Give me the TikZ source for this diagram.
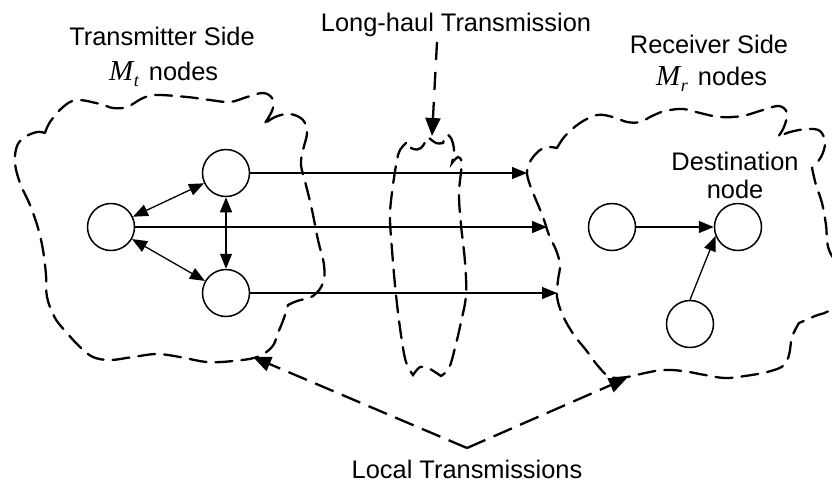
\documentclass[tikz,border=0pt]{standalone}
\usepackage{fontspec}
\setmainfont{Liberation Sans}
\newfontfamily\tmsfont{Liberation Serif}
\usetikzlibrary{arrows.meta}
\begin{document}
\begin{tikzpicture}[x=1pt,y=-1pt,
  nd/.style={circle,draw,line width=1.5pt,minimum size=47pt,inner sep=0pt,fill=white},
  conn/.style={line width=1.3pt,-{Triangle[length=15pt,width=12pt]}},
  dconn/.style={line width=1.3pt,{Triangle[length=15pt,width=12pt]}-{Triangle[length=15pt,width=12pt]}},
  cloudline/.style={line width=2.3pt,dash pattern=on 17pt off 9pt,line cap=round},
  darrow/.style={line width=2.3pt,dash pattern=on 20pt off 9pt,-{Triangle[length=18pt,width=15pt]}},
  lbl/.style={font=\fontsize{25.4}{30}\selectfont,inner sep=0pt,anchor=base}
]
\useasboundingbox (0,0) rectangle (832,483);
\clip (0,0) rectangle (832,483);
\fill[white] (0,0) rectangle (832,483);

% clouds
\draw[cloudline] plot[smooth,tension=0.6] coordinates {(45,133) (50,122) (63,107) (77,100) (100,104) (113,108) (127,107) (143,98) (157,95) (187,97) (210,100) (230,102) (247,97) (263,93) (272,98) (273,108) (267,120) (263,125)}
 -- plot[smooth,tension=0.6] coordinates {(263,125) (275,117) (290,114) (303,120) (307,133) (303,150) (301,165) (306,185) (312,210) (318,240) (324,265) (323,283) (313,296) (297,301) (288,305)}
 -- plot[smooth,tension=0.6] coordinates {(288,305) (284,318) (278,333) (272,347) (257,357) (233,361) (207,362) (180,357) (157,354) (133,357) (110,360) (93,357) (80,347) (67,333) (55,318) (47,297) (46,275) (43,250) (38,228) (30,205) (20,183) (15,163) (17,146) (25,137) (37,132) (45,133)} -- cycle;

\draw[cloudline] plot[smooth,tension=0.6] coordinates {(406,143) (400,150) (397,160) (393,185) (390,215) (392,250) (396,295) (401,335) (406,362) (413,375)}
 -- plot[smooth,tension=0.6] coordinates {(413,375) (420,367) (428,368) (435,372) (441,376)}
 -- plot[smooth,tension=0.6] coordinates {(441,376) (449,368) (455,348) (461,322) (466,295) (465,262) (461,225) (459,195) (461,172) (462,162) (458,157) (452,163)}
 -- plot[smooth,tension=0.6] coordinates {(452,163) (454,150) (451,138) (446,135) (443,143)}
 -- plot[smooth,tension=0.6] coordinates {(443,143) (436,143) (428,137)}
 -- plot[smooth,tension=0.6] coordinates {(428,137) (421,148) (413,149) (406,143)} -- cycle;

\draw[cloudline] plot[smooth,tension=0.6] coordinates {(557,148) (565,136) (580,123) (597,115) (613,117) (627,122) (640,122) (652,116) (665,111) (683,109) (700,113) (720,117) (742,116) (763,110) (779,106) (787,113) (784,127) (778,137)}
 -- plot[smooth,tension=0.6] coordinates {(778,137) (790,132) (807,129) (820,131) (825,143) (821,157) (812,168)}
 -- plot[smooth,tension=0.6] coordinates {(812,168) (816,185) (822,203) (826,225) (829,250) (845,280) (832,308) (815,316) (799,323)}
 -- plot[smooth,tension=0.6] coordinates {(799,323) (792,337) (789,355) (783,366) (767,372) (745,376) (725,378) (705,375) (683,371) (663,370) (645,373) (627,377) (610,377) (598,366) (586,350) (574,335) (563,316) (557,297) (558,280) (560,265) (556,250) (549,235) (543,217) (536,200) (530,185) (527,172) (531,160) (540,150) (548,147) (557,148)} -- cycle;

% nodes
\node[nd] (A) at (111,227) {};
\node[nd] (B) at (226,173) {};
\node[nd] (C) at (226,293) {};
\node[nd] (D1) at (612,227) {};
\node[nd] (D2) at (738,227) {};
\node[nd] (D3) at (690,324) {};

\coordinate (tB) at (527,173);
\coordinate (tA) at (547,227);
\coordinate (tC) at (557,293);
\draw[dconn] (A) -- (B);
\draw[dconn] (A) -- (C);
\draw[dconn] (B) -- (C);
\draw[conn] (B) -- (tB);
\draw[conn] (A) -- (tA);
\draw[conn] (C) -- (tC);
\draw[conn] (D1) -- (D2);
\draw[conn] (D3.north) -- (D2.202);

% labels
\node[lbl] (ts) at (162,45) {Transmitter Side};
\node[lbl,anchor=base west] (mt) at (109,80) {{\tmsfont\itshape\fontsize{29}{32}\selectfont M\kern0.5pt\raisebox{-6pt}{\fontsize{18}{20}\selectfont t}}\kern3pt{} nodes};
\node[lbl] (lh) at (456,31) {Long-haul Transmission};
\node[lbl] (rs) at (709,53) {Receiver Side};
\node[lbl,anchor=base west] (mr) at (656,85) {{\tmsfont\itshape\fontsize{29}{32}\selectfont M\kern0.5pt\raisebox{-6pt}{\fontsize{18}{20}\selectfont r}}\kern3pt{} nodes};
\node[lbl] (dn1) at (735,170) {Destination};
\node[lbl] (dn2) at (735,198) {node};
\node[lbl] (lt) at (467,478) {Local Transmissions};

% dashed pointer arrows
\coordinate (lh0) at (437,42);
\coordinate (lhT) at (432,136);
\draw[darrow,dash pattern=on 18pt off 12pt] (lh0) -- (lhT);
\coordinate (V) at (467,448);
\coordinate (lt1) at (253,357);
\coordinate (lt2) at (627,378);
\draw[darrow] (V) -- (lt1);
\draw[darrow] (V) -- (lt2);
\end{tikzpicture}
\end{document}
